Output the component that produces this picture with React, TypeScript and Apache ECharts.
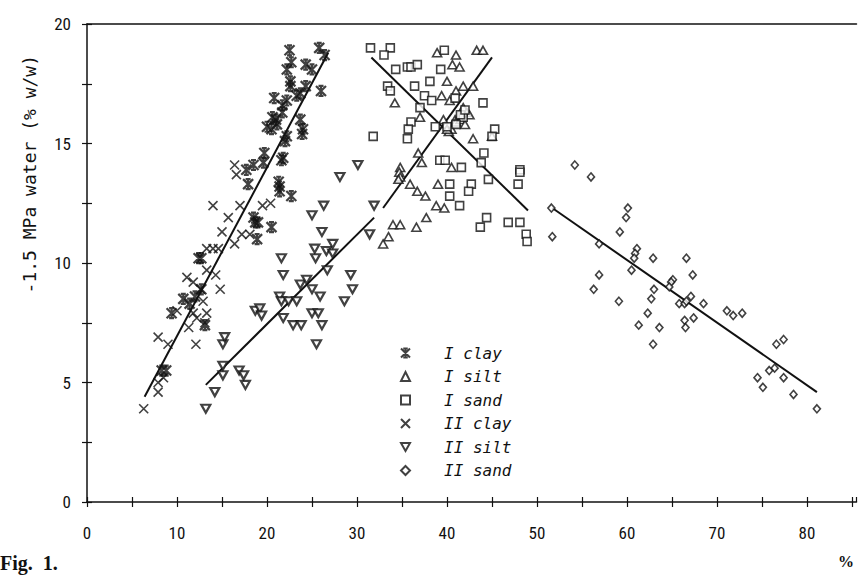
import React, { useEffect, useRef } from "react";
import * as echarts from "echarts";

const seriesNames = ["I clay", "I silt", "I sand", "II clay", "II silt", "II sand"];

const iClay: number[][] = [
  [22.5, 18.9], [25.8, 19.0], [26.4, 18.7], [22.7, 18.4], [22.2, 18.1], [24.3, 18.3], [25.0, 18.1],
  [22.6, 17.6], [22.6, 17.4], [24.3, 17.4], [26.0, 17.2], [23.7, 17.1], [20.8, 16.9], [22.2, 16.8],
  [21.7, 16.6], [21.7, 16.3], [20.6, 16.1], [20.0, 15.7], [21.1, 15.8], [20.5, 15.6], [23.7, 16.0],
  [24.0, 15.6], [23.9, 15.4], [22.2, 15.3], [19.7, 14.6], [19.6, 14.2], [21.6, 14.3], [17.7, 13.9],
  [18.5, 14.1], [17.9, 13.3], [21.8, 14.4], [21.3, 13.4], [21.4, 13.2], [21.4, 13.0], [22.7, 12.8],
  [22.0, 15.1], [18.5, 11.9], [18.7, 11.7], [19.0, 11.7], [20.5, 11.5], [18.9, 11.0], [12.4, 10.2],
  [10.7, 8.5], [11.4, 8.3], [12.0, 8.6], [9.4, 7.9], [13.1, 7.4], [8.3, 5.5], [8.8, 5.5], [12.7, 8.9],
  [12.7, 10.2], [21.0, 16.0], [23.3, 17.0],
];

const iSilt: number[][] = [
  [38.9, 18.8], [43.3, 18.9], [44.0, 18.9], [41.0, 18.7], [40.6, 18.3], [41.4, 18.2], [40.0, 17.6],
  [41.8, 17.4], [42.9, 17.4], [41.0, 17.2], [39.4, 17.0], [40.3, 16.8], [34.2, 16.7], [41.8, 16.5],
  [37.0, 16.1], [39.6, 16.0], [40.9, 16.0], [42.2, 16.3], [42.9, 15.2], [45.0, 15.3], [36.8, 14.6],
  [37.2, 14.2], [40.5, 14.0], [34.8, 14.0], [34.7, 13.8], [34.8, 13.6], [34.6, 13.5], [35.9, 13.3],
  [39.0, 13.3], [36.7, 13.0], [37.6, 12.8], [38.8, 12.4], [39.7, 12.3], [37.7, 11.9], [34.0, 11.6],
  [34.8, 11.6], [36.6, 11.5], [33.5, 11.1], [32.9, 10.8], [40.5, 15.6], [41.0, 15.9], [41.5, 16.0],
  [42.0, 15.8], [42.5, 16.2], [40.2, 15.5], [40.0, 15.6],
];

const iSand: number[][] = [
  [31.5, 19.0], [33.7, 19.0], [33.0, 18.7], [39.7, 18.9], [34.3, 18.1], [35.6, 18.2], [36.0, 18.2],
  [36.7, 18.3], [39.3, 18.1], [33.4, 17.4], [33.7, 17.2], [36.4, 17.4], [38.1, 17.6], [37.5, 17.0],
  [38.3, 16.8], [44.0, 16.7], [37.0, 16.5], [40.9, 16.9], [36.0, 15.9], [38.7, 15.7], [41.8, 16.1],
  [35.7, 15.6], [35.6, 15.2], [31.8, 15.3], [45.3, 15.6], [45.0, 15.3], [44.1, 14.6], [39.2, 14.3],
  [39.8, 14.3], [41.6, 14.0], [43.8, 14.2], [44.6, 13.5], [40.3, 13.3], [42.7, 13.3], [40.3, 12.8],
  [42.4, 13.0], [41.4, 12.4], [48.1, 13.9], [48.1, 13.8], [47.9, 13.3], [44.4, 11.9], [43.7, 11.5],
  [46.8, 11.7], [48.1, 11.7], [48.8, 11.2], [48.9, 10.9], [40.0, 15.7], [41.0, 15.8], [41.5, 16.2],
  [42.0, 16.4],
];

const iiClay: number[][] = [
  [16.4, 14.1], [16.6, 13.7], [14.0, 12.4], [17.0, 12.4], [15.7, 11.9], [19.5, 12.4], [20.4, 12.5],
  [15.0, 11.3], [17.2, 11.2], [18.1, 11.2], [16.4, 10.8], [14.0, 10.6], [13.3, 10.6], [14.6, 10.6],
  [13.3, 9.7], [14.3, 9.5], [14.8, 8.9], [11.1, 9.4], [11.8, 9.2], [12.6, 8.9], [12.9, 8.4],
  [11.8, 7.9], [13.3, 7.9], [12.2, 7.7], [11.3, 7.3], [7.9, 6.9], [9.0, 6.6], [12.1, 6.6],
  [8.5, 5.2], [7.9, 5.0], [7.9, 4.6], [6.3, 3.9], [10.0, 8.0], [13.1, 7.5],
];

const iiSilt: number[][] = [
  [13.2, 3.9], [14.2, 4.6], [15.1, 5.3], [15.1, 5.7], [15.1, 6.6], [15.3, 6.9], [16.9, 5.5],
  [17.4, 5.3], [17.6, 4.9], [18.7, 8.0], [19.2, 8.1], [19.4, 7.8], [21.4, 8.6], [21.6, 8.4],
  [21.6, 10.2], [21.8, 9.5], [21.8, 7.7], [22.4, 8.4], [22.9, 7.4], [23.3, 8.4], [23.7, 9.1],
  [23.8, 7.4], [24.4, 9.3], [25.0, 8.9], [25.0, 7.9], [25.0, 12.0], [25.3, 10.6], [25.4, 10.2],
  [25.5, 6.6], [25.7, 7.9], [25.9, 8.6], [26.1, 11.3], [26.1, 7.4], [26.3, 12.4], [26.6, 10.5],
  [26.7, 9.7], [27.3, 10.8], [27.3, 10.4], [28.1, 13.6], [28.6, 8.4], [29.3, 9.5], [29.5, 8.9],
  [30.1, 14.1], [31.4, 11.2], [31.9, 12.4],
];

const iiSand: number[][] = [
  [54.2, 14.1], [56.0, 13.6], [51.6, 12.3], [51.7, 11.1], [60.1, 12.3], [59.9, 11.9], [59.2, 11.3],
  [56.9, 10.8], [61.1, 10.6], [60.9, 10.4], [60.8, 10.2], [62.9, 10.2], [66.6, 10.2], [60.5, 9.7],
  [56.9, 9.5], [56.3, 8.9], [59.1, 8.4], [65.1, 9.3], [64.9, 9.2], [64.7, 9.0], [67.3, 9.5],
  [63.0, 8.9], [62.7, 8.5], [67.1, 8.6], [65.8, 8.3], [66.4, 8.3], [66.6, 8.4], [68.5, 8.3],
  [62.3, 7.9], [71.1, 8.0], [71.8, 7.8], [72.8, 7.9], [61.3, 7.4], [63.6, 7.3], [66.4, 7.6],
  [67.4, 7.7], [66.5, 7.3], [62.9, 6.6], [77.4, 6.8], [76.6, 6.6], [76.4, 5.6], [75.8, 5.5],
  [77.4, 5.2], [74.5, 5.2], [75.1, 4.8], [78.5, 4.5], [81.1, 3.9],
];

// fitted lines (endpoints)
const clayLine: number[][] = [[6.4, 4.4], [26.8, 18.8]];
const iiSiltLine: number[][] = [[13.2, 4.9], [31.9, 11.9]];
const iSiltLine: number[][] = [[32.9, 12.3], [45.0, 18.6]];
const iSandLine: number[][] = [[31.6, 18.6], [49.0, 12.2]];
const iiSandLine: number[][] = [[51.7, 12.3], [81.1, 4.6]];

const SYM_ASTERISK = "path://M0,0L10,10M10,0L0,10M5,0L5,10M2.5,0L7.5,0M2.5,10L7.5,10";
const SYM_CROSS = "path://M0,0L10,10M10,0L0,10";

const App: React.FC = () => {
  const ref = useRef<HTMLDivElement>(null);
  useEffect(() => {
    if (!ref.current) return;
    const chart = echarts.init(ref.current, undefined, { renderer: "svg" });
    const labelFont = "'Liberation Sans Narrow', 'Roboto Condensed', 'Liberation Sans', sans-serif";
    const monoFont = "'DejaVu Sans Mono', monospace";
    const black = "#111";

    const scatter = (name: string, data: number[][], symbol: string, size: number | number[], style: any) => ({
      name,
      type: "scatter",
      data,
      symbol,
      symbolSize: size,
      itemStyle: style,
      emphasis: { disabled: true },
      z: 3,
    });
    const line = (data: number[][]) => ({
      type: "line",
      data,
      symbol: "none",
      lineStyle: { color: black, width: 2 },
      silent: true,
      z: 2,
    });
    const strokeOnly = { color: "rgba(0,0,0,0)", borderColor: black, borderWidth: 2 };
    const outline = { color: "#fff", borderColor: black, borderWidth: 1.6 };

    const baseX = {
      type: "value",
      min: 0,
      max: 85.5,
      interval: 5,
      splitLine: { show: false },
    };
    const baseY = {
      type: "value",
      min: 0,
      max: 20,
      interval: 2.5,
      splitLine: { show: false },
    };

    chart.setOption({
      animation: false,
      backgroundColor: "#fff",
      grid: { left: 87, right: 1.5, top: 24, bottom: 74, containLabel: false },
      xAxis: [
        {
          ...baseX,
          position: "bottom",
          axisLine: { show: true, lineStyle: { color: black, width: 1.5 } },
          axisTick: { show: true, inside: false, length: 5, lineStyle: { color: black, width: 1.2 } },
          axisLabel: {
            show: true,
            margin: 22,
            color: black,
            fontSize: 17,
            fontFamily: labelFont,
            showMaxLabel: false,
            formatter: (v: number) => (v % 10 === 0 ? String(v) : ""),
          },
        },
        {
          ...baseX,
          position: "bottom",
          axisLine: { show: false },
          axisTick: { show: true, inside: true, length: 5, lineStyle: { color: black, width: 1.2 } },
          axisLabel: { show: false },
        },
        {
          ...baseX,
          position: "top",
          axisLine: { show: true, lineStyle: { color: black, width: 1.5 } },
          axisTick: { show: false },
          axisLabel: { show: false },
        },
      ],
      yAxis: [
        {
          ...baseY,
          position: "left",
          axisLine: { show: true, lineStyle: { color: black, width: 1.5 } },
          axisTick: { show: true, inside: false, length: 5, lineStyle: { color: black, width: 1.2 } },
          axisLabel: {
            show: true,
            margin: 16,
            color: black,
            fontSize: 17,
            fontFamily: labelFont,
            formatter: (v: number) => (v % 5 === 0 ? String(v) : ""),
          },
        },
        {
          ...baseY,
          position: "left",
          axisLine: { show: false },
          axisTick: { show: true, inside: true, length: 5, lineStyle: { color: black, width: 1.2 } },
          axisLabel: { show: false },
        },
      ],
      legend: {
        orient: "vertical",
        left: 395,
        top: 340,
        itemWidth: 9,
        itemHeight: 9,
        itemGap: 7.5,
        selectedMode: false,
        data: seriesNames,
        textStyle: {
          color: black,
          fontSize: 16,
          lineHeight: 16,
          fontStyle: "italic",
          fontFamily: monoFont,
          padding: [0, 0, 0, 29],
        },
      },
      graphic: [
        {
          type: "text",
          left: 20,
          top: 55,
          rotation: Math.PI / 2,
          style: {
            text: "-1.5 MPa water (% w/w)",
            fill: black,
            font: `18px ${monoFont}`,
          },
        },
        {
          type: "text",
          left: 0,
          top: 553,
          style: {
            text: "Fig.  1.",
            fill: black,
            font: "bold 20px 'Liberation Serif', serif",
          },
        },
        {
          type: "text",
          left: 838,
          top: 553,
          style: {
            text: "%",
            fill: black,
            font: "bold 16px 'Liberation Serif', serif",
          },
        },
      ],
      series: [
        scatter(seriesNames[0], iClay, SYM_ASTERISK, 10, { ...strokeOnly, borderWidth: 2.2 }),
        scatter(seriesNames[1], iSilt, "triangle", [9, 8], outline),
        scatter(seriesNames[2], iSand, "rect", 8, outline),
        scatter(seriesNames[3], iiClay, SYM_CROSS, 9, { ...strokeOnly, borderWidth: 1.6 }),
        scatter(seriesNames[4], iiSilt, "path://M0,0L10,0L5,9Z", [9, 8], { color: "#fff", borderColor: black, borderWidth: 2.2 }),
        scatter(seriesNames[5], iiSand, "diamond", [7, 8], outline),
        line(clayLine),
        line(iiSiltLine),
        line(iSiltLine),
        line(iSandLine),
        line(iiSandLine),
      ],
    });
    return () => chart.dispose();
  }, []);
  return (
    <div
      ref={ref}
      style={{ position: "absolute", left: 0, top: 0, width: 858, height: 576 }}
    />
  );
};

export default App;
